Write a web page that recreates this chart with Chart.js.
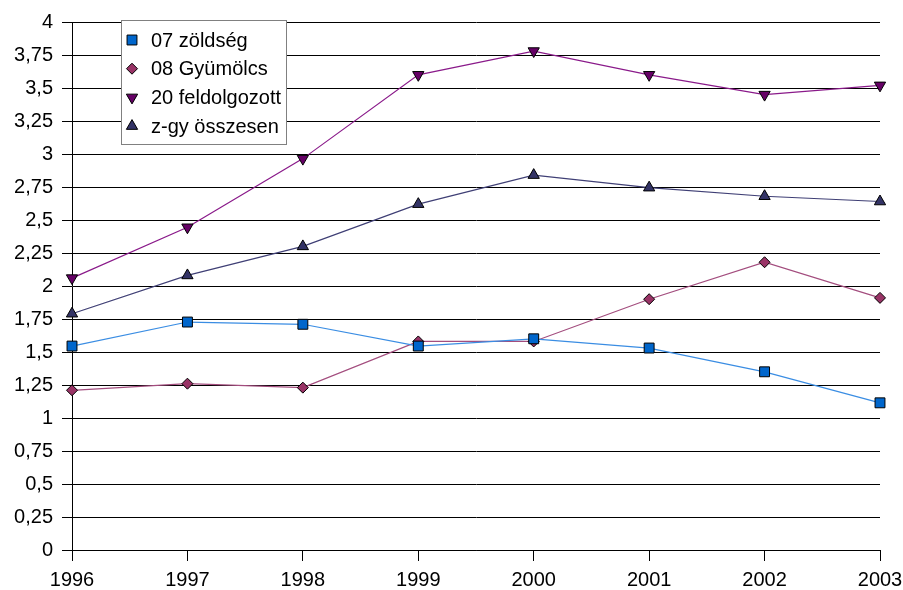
<!DOCTYPE html>
<html>
<head>
<meta charset="utf-8">
<script src="https://cdn.jsdelivr.net/npm/chart.js@4.4.1/dist/chart.umd.min.js"></script>
<style>
  html, body { margin: 0; padding: 0; background: #fff; }
  #wrap { width: 903px; height: 590px; }
</style>
</head>
<body>
<div id="wrap"><canvas id="chart"></canvas></div>
<script>
// évek (x tengely)
const years = ['1996', '1997', '1998', '1999', '2000', '2001', '2002', '2003'];

// sorozatok
const zoldseg = [1.545, 1.727, 1.71, 1.545, 1.60, 1.53, 1.35, 1.115];
const gyumolcs = [1.21, 1.26, 1.23, 1.58, 1.58, 1.90, 2.18, 1.91];
const feldolgozott = [2.06, 2.445, 2.965, 3.60, 3.78, 3.60, 3.45, 3.52];
const osszesen = [1.79, 2.08, 2.30, 2.62, 2.84, 2.745, 2.68, 2.64];

// y tengely
const yMin = 0;
const yMax = 4;
const yStep = 0.25;

const FONT = '"Liberation Sans", Arial, sans-serif';

// legend box drawn inside the plot, like the Excel original
const legendBox = {
    id: 'legendBox',
    afterDraw(chart) {
        const ctx = chart.ctx;
        const x = 121, y = 20, w = 165, h = 124;
        ctx.save();
        ctx.fillStyle = '#fff';
        ctx.fillRect(x, y, w, h);
        ctx.strokeStyle = '#808080';
        ctx.lineWidth = 1;
        ctx.strokeRect(x + 0.5, y + 0.5, w, h);
        ctx.font = '20px ' + FONT;
        ctx.textBaseline = 'middle';
        chart.data.datasets.forEach((ds, i) => {
            const cy = y + 20 + i * 28.7;
            ctx.fillStyle = ds.pointBackgroundColor;
            ctx.strokeStyle = '#000';
            ctx.lineWidth = 1;
            Chart.helpers.drawPoint(ctx, {
                pointStyle: ds.pointStyle,
                rotation: ds.pointRotation || 0,
                radius: ds.pointRadius,
                borderWidth: 1
            }, 132, cy);
            ctx.fillStyle = '#000';
            ctx.fillText(ds.label, 151, cy + 1);
        });
        ctx.restore();
    }
};

new Chart(document.getElementById('chart'), {
    type: 'line',
    data: {
        labels: years,
        datasets: [
            {
                label: '07 zöldség',
                data: zoldseg,
                borderColor: '#3A8DE3',
                pointBackgroundColor: '#0066CC',
                pointStyle: 'rect',
                pointRadius: 7
            },
            {
                label: '08 Gyümölcs',
                data: gyumolcs,
                borderColor: '#A34D7E',
                pointBackgroundColor: '#993366',
                pointStyle: 'rectRot',
                pointRadius: 5.5
            },
            {
                label: '20 feldolgozott',
                data: feldolgozott,
                borderColor: '#8A1A8A',
                pointBackgroundColor: '#660066',
                pointStyle: 'triangle',
                pointRotation: 180,
                pointRadius: 6.5
            },
            {
                label: 'z-gy összesen',
                data: osszesen,
                borderColor: '#3F3F75',
                pointBackgroundColor: '#333366',
                pointStyle: 'triangle',
                pointRadius: 6.5
            }
        ].map(d => Object.assign({
            borderWidth: 1.2,
            pointBorderColor: '#000',
            pointBorderWidth: 1,
            fill: false,
            tension: 0
        }, d))
    },
    options: {
        responsive: true,
        maintainAspectRatio: false,
        animation: false,
        layout: { padding: { top: 22, right: 23, left: 0, bottom: 0 } },
        plugins: {
            legend: { display: false },
            tooltip: { enabled: false }
        },
        scales: {
            x: {
                offset: false,
                grid: {
                    display: true,
                    drawOnChartArea: false,
                    color: '#000',
                    tickLength: 11
                },
                border: { color: '#000', width: 1 },
                ticks: {
                    color: '#000',
                    font: { family: FONT, size: 20 },
                    padding: 7,
                    maxRotation: 0
                },
                afterFit(scale) {
                    scale.height = 40;
                    scale.paddingLeft = 0;
                    scale.paddingRight = 0;
                }
            },
            y: {
                min: yMin,
                max: yMax,
                grid: {
                    color: '#000',
                    tickLength: 10
                },
                border: { color: '#000', width: 1 },
                ticks: {
                    stepSize: yStep,
                    color: '#000',
                    font: { family: FONT, size: 20 },
                    padding: 9,
                    callback: v => String(v).replace('.', ',')
                },
                afterFit(scale) { scale.width = 72; }
            }
        }
    },
    plugins: [legendBox]
});
</script>
</body>
</html>
